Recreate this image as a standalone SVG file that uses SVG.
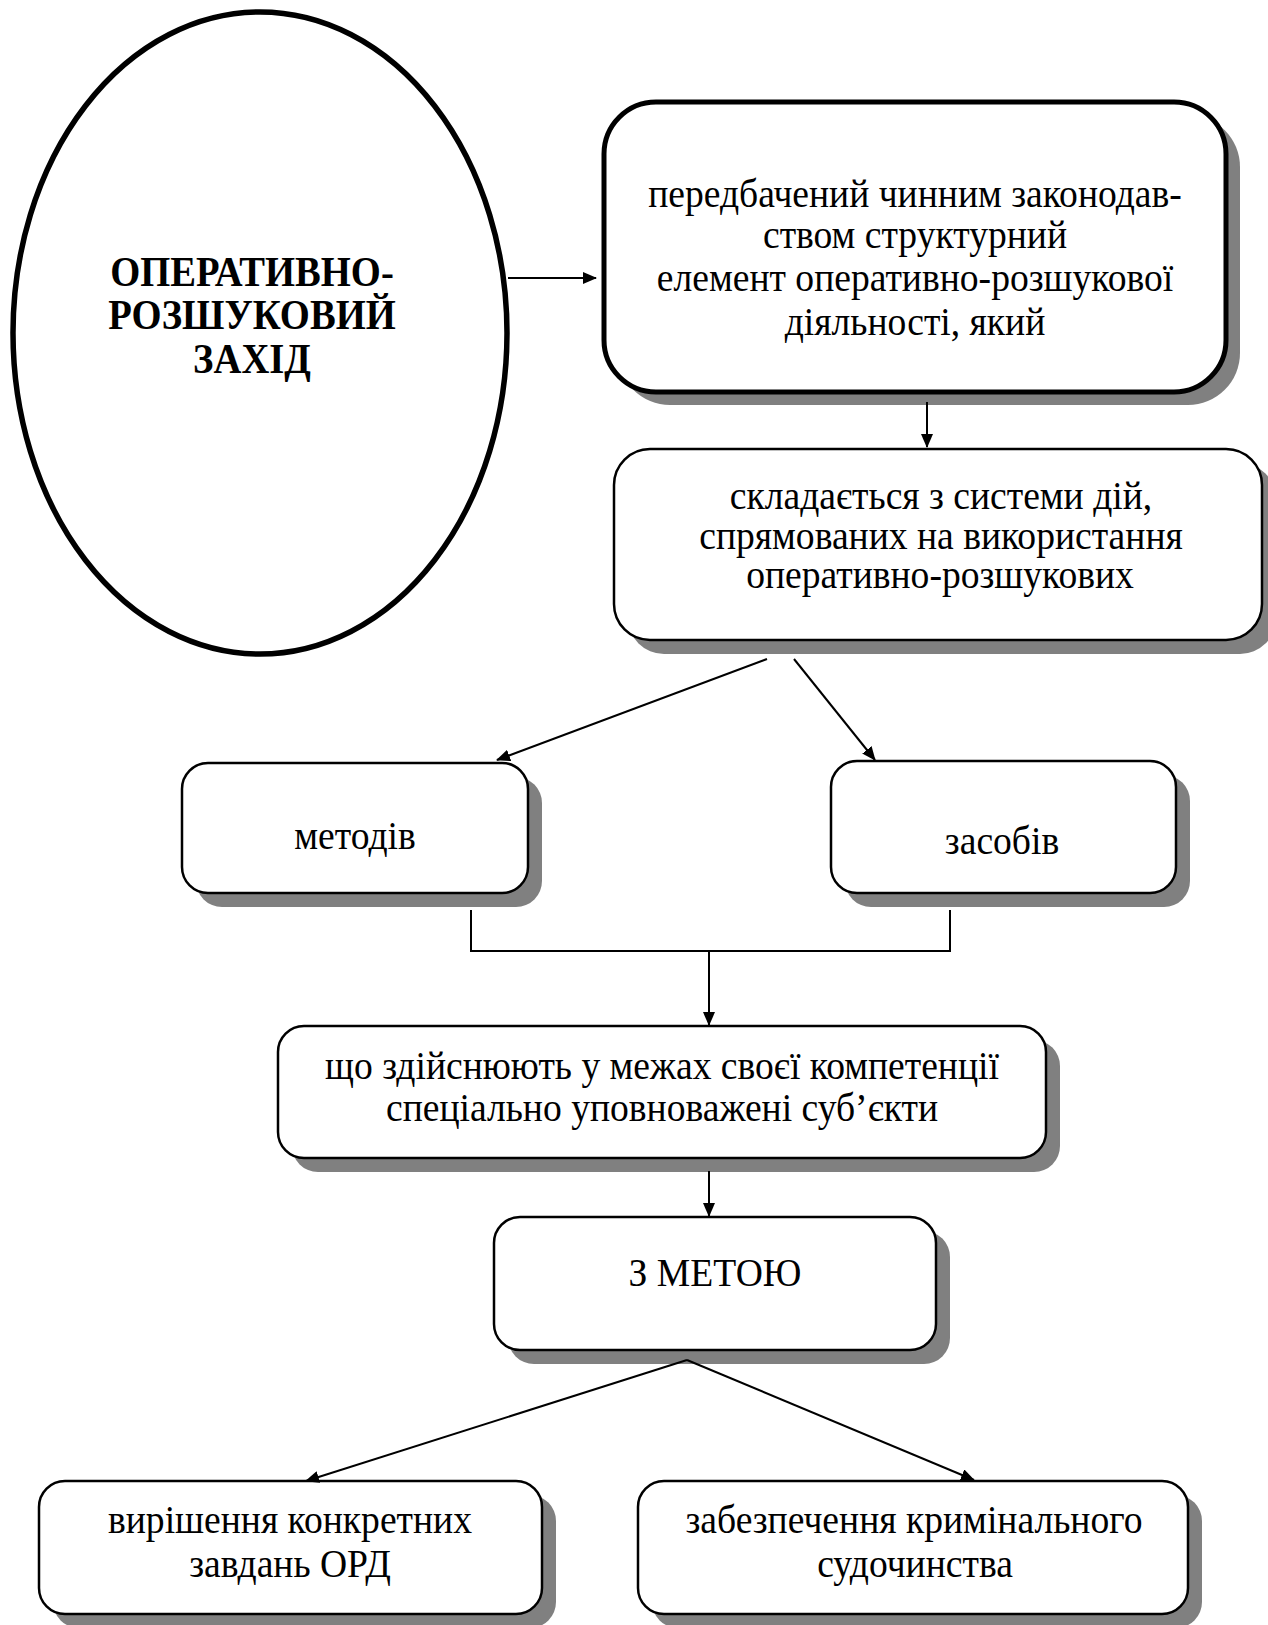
<svg xmlns="http://www.w3.org/2000/svg" width="1268" height="1625" viewBox="0 0 1268 1625">
<defs>
<marker id="ah" markerWidth="14" markerHeight="12" refX="13" refY="6" orient="auto" markerUnits="userSpaceOnUse">
<path d="M0,0 L14,6 L0,12 Z" fill="#000"/>
</marker>
<style>
.sh{fill:#808080}
.bx{fill:#fff;stroke:#000;stroke-width:2.5}
.bxt{fill:#fff;stroke:#000;stroke-width:5}
.t{font-family:"Liberation Serif","Times New Roman",serif;font-size:40px;fill:#000;text-anchor:middle}
.tb{font-family:"Liberation Serif","Times New Roman",serif;font-size:42px;font-weight:bold;fill:#000;text-anchor:middle}
.ln{stroke:#000;stroke-width:2;fill:none}
</style>
</defs>
<rect width="1268" height="1625" fill="#fff"/>

<g id="node-ord">
<ellipse cx="260" cy="333" rx="247" ry="321" fill="#fff" stroke="#000" stroke-width="5.5"/>
<text class="tb" transform="matrix(0.92 0 0 1 252 286)">ОПЕРАТИВНО-</text>
<text class="tb" transform="matrix(0.92 0 0 1 252 329)">РОЗШУКОВИЙ</text>
<text class="tb" transform="matrix(0.92 0 0 1 252 373)">ЗАХІД</text>
</g>

<g id="node-def">
<rect class="sh" x="618" y="115" width="622" height="290" rx="52"/>
<rect class="bxt" x="604" y="102" width="622" height="290" rx="52"/>
<text class="t" transform="matrix(0.94 0 0 1 915 207)">передбачений чинним законодав-</text>
<text class="t" transform="matrix(0.94 0 0 1 915 248)">ством структурний</text>
<text class="t" transform="matrix(0.94 0 0 1 915 291)">елемент оперативно-розшукової</text>
<text class="t" transform="matrix(0.94 0 0 1 915 335)">діяльності, який</text>
</g>

<g id="node-system">
<rect class="sh" x="628" y="463" width="648" height="191" rx="36"/>
<rect class="bx" x="614" y="449" width="648" height="191" rx="36"/>
<text class="t" transform="matrix(0.94 0 0 1 941 509)">складається з системи дій,</text>
<text class="t" transform="matrix(0.94 0 0 1 941 549)">спрямованих на використання</text>
<text class="t" transform="matrix(0.94 0 0 1 940 588)">оперативно-розшукових</text>
</g>

<g id="node-methods">
<rect class="sh" x="196" y="777" width="346" height="130" rx="26"/>
<rect class="bx" x="182" y="763" width="346" height="130" rx="26"/>
<text class="t" transform="matrix(0.94 0 0 1 355 849)">методів</text>
</g>

<g id="node-means">
<rect class="sh" x="845" y="775" width="345" height="132" rx="26"/>
<rect class="bx" x="831" y="761" width="345" height="132" rx="26"/>
<text class="t" transform="matrix(0.94 0 0 1 1002 854)">засобів</text>
</g>

<g id="node-subjects">
<rect class="sh" x="292" y="1040" width="768" height="132" rx="26"/>
<rect class="bx" x="278" y="1026" width="768" height="132" rx="26"/>
<text class="t" transform="matrix(0.94 0 0 1 662 1079)">що здійснюють у межах своєї компетенції</text>
<text class="t" transform="matrix(0.94 0 0 1 662 1121)">спеціально уповноважені суб’єкти</text>
</g>

<g id="node-goal">
<rect class="sh" x="508" y="1231" width="442" height="133" rx="26"/>
<rect class="bx" x="494" y="1217" width="442" height="133" rx="26"/>
<text class="t" transform="matrix(0.94 0 0 1 715 1286)">З МЕТОЮ</text>
</g>

<g id="node-tasks">
<rect class="sh" x="53" y="1495" width="503" height="133" rx="26"/>
<rect class="bx" x="39" y="1481" width="503" height="133" rx="26"/>
<text class="t" transform="matrix(0.94 0 0 1 290 1533)">вирішення конкретних</text>
<text class="t" transform="matrix(0.94 0 0 1 290 1577)">завдань ОРД</text>
</g>

<g id="node-justice">
<rect class="sh" x="652" y="1495" width="550" height="133" rx="26"/>
<rect class="bx" x="638" y="1481" width="550" height="133" rx="26"/>
<text class="t" transform="matrix(0.94 0 0 1 914 1533)">забезпечення кримінального</text>
<text class="t" transform="matrix(0.94 0 0 1 915 1577)">судочинства</text>
</g>

<g id="connectors">
<line class="ln" x1="508" y1="278" x2="596" y2="278" marker-end="url(#ah)"/>
<line class="ln" x1="927" y1="402" x2="927" y2="447" marker-end="url(#ah)"/>
<line class="ln" x1="767" y1="659" x2="497" y2="760" marker-end="url(#ah)"/>
<line class="ln" x1="794" y1="659" x2="875" y2="760" marker-end="url(#ah)"/>
<polyline class="ln" points="471,910 471,951 950,951 950,910"/>
<line class="ln" x1="709" y1="951" x2="709" y2="1025" marker-end="url(#ah)"/>
<line class="ln" x1="709" y1="1171" x2="709" y2="1216" marker-end="url(#ah)"/>
<line class="ln" x1="687" y1="1360" x2="306" y2="1481" marker-end="url(#ah)"/>
<line class="ln" x1="687" y1="1360" x2="974" y2="1480" marker-end="url(#ah)"/>
</g>
</svg>
